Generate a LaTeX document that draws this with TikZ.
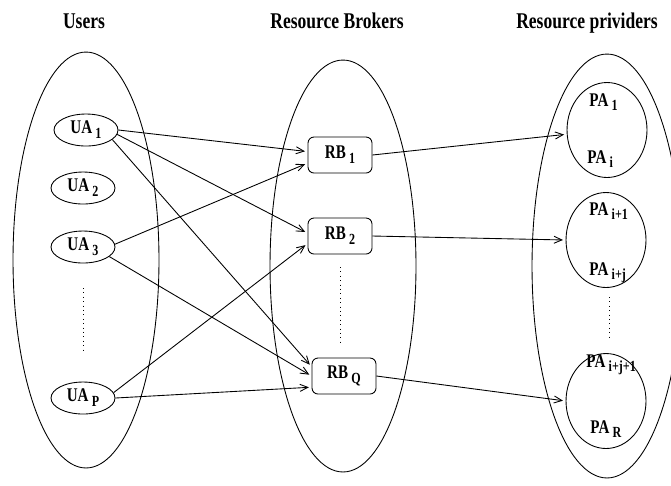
\documentclass[tikz,border=0pt]{standalone}
\usepackage{fontspec}
\setmainfont{Liberation Serif}[FakeStretch=0.78]
\usetikzlibrary{positioning,arrows.meta,shapes.geometric}

% lowered index after an agent name
\newcommand{\idx}[1]{\,\raisebox{-2.8pt}{\fontsize{8.8}{9}\selectfont #1}}

\tikzset{
  grp/.style={ellipse,draw,inner sep=0pt},
  agent/.style={ellipse,draw,minimum width=1.28cm,minimum height=0.64cm,inner sep=0pt,
    font=\fontsize{11}{13}\selectfont\bfseries},
  broker/.style={rectangle,draw,rounded corners=0.12cm,minimum width=1.28cm,minimum height=0.72cm,
    inner sep=0pt,font=\fontsize{11}{13}\selectfont\bfseries},
  pool/.style={ellipse,draw,minimum width=1.6cm,minimum height=1.9cm,inner sep=0pt},
  pa/.style={anchor=base west,inner sep=0pt,font=\fontsize{11}{13}\selectfont\bfseries},
  head/.style={anchor=base,font=\fontsize{12.8}{14}\selectfont\bfseries},
  lnk/.style={-{Straight Barb[length=4.5pt,width=4pt]},shorten >=1.5pt}
}

\begin{document}
\begin{tikzpicture}[x=0.02cm,y=-0.02cm,line width=0.5pt]
\useasboundingbox (0,0) rectangle (671,485);

% column headings
\node[head] (hUsers) at (84,28) {Users};
\node[head] (hBrokers) at (337,28) {Resource Brokers};
\node[head] (hProviders) at (587,28) {Resource prividers};

% the three groups
\node[grp,minimum width=2.92cm,minimum height=8.32cm] (users) at (86,260) {};
\node[grp,minimum width=2.92cm,minimum height=8.24cm] (brokers) at (343,266) {};
\node[grp,minimum width=3.0cm,minimum height=8.48cm] (providers) at (607,266) {};

% user agents
\node[agent] (ua1) at (86,130) {UA\idx{1}};
\node[agent] (ua2) at (83,188) {UA\idx{2}};
\node[agent] (ua3) at (83,247) {UA\idx{3}};
\node[agent] (uap) at (83,398) {UA\idx{P}};
\draw[dotted] (83,288) -- (83,353);

% brokers
\node[broker] (rb1) at (340,155) {RB\idx{1}};
\node[broker] (rb2) at (340,236) {RB\idx{2}};
\node[broker] (rbq) at (344,376) {RB\idx{Q}};
\draw[dotted] (340,267) -- (340,345);

% provider pools
\node[pool] (pool1) at (607,130) {};
\node[pool] (pool2) at (606,240) {};
\node[pool] (pool3) at (606,401) {};
\node[pa] (pa1) at (589,106) {PA\idx{1}};
\node[pa] (pai) at (587,163) {PA\idx{i}};
\node[pa] (pai1) at (589,215) {PA\idx{i+1}};
\node[pa] (paij) at (589,275) {PA\idx{i+j}};
\node[pa] (paij1) at (586,367) {PA\idx{i+j+1}};
\node[pa] (par) at (590,433) {PA\idx{R}};
\draw[dotted] (609,297) -- (609,337);

% users to brokers
\draw[lnk] (ua1.east) -- (rb1.174);
\draw[lnk] (ua1.-8) -- (rb2.175);
\draw[lnk] (ua1.-20) -- (rbq.164);
\draw[lnk] (ua3.5) -- (rb1.194);
\draw[lnk] (ua3.-20) -- (rbq.west);
\draw[lnk] (uap.10) -- (rb2.193);
\draw[lnk] (uap.east) -- (rbq.199);

% brokers to providers
\draw[lnk] (rb1.east) -- (pool1.186);
\draw[lnk] (rb2.east) -- (pool2.west);
\draw[lnk] (rbq.east) -- (pool3.west);
\end{tikzpicture}
\end{document}
